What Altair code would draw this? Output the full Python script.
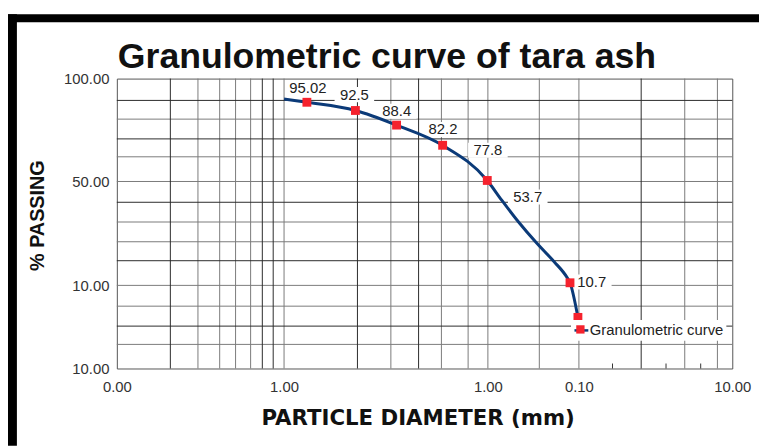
import altair as alt
import pandas as pd

# ---- axis ticks (tick-index positions) and their printed labels ----
x_ticks = [0, 1, 2, 3, 4]
x_tick_labels = ["0.00", "1.00", "1.00", "0.10", "10.00"]
y_ticks = [0, 10, 50, 100]
y_tick_labels = ["10.00", "10.00", "50.00", "100.00"]

# ---- granulometric curve (axis units) ----
curve_x = [1.0, 1.112, 1.35, 1.552, 1.778, 1.997, 2.152, 2.337, 2.543, 2.728, 2.87, 2.902, 2.989]
curve_y = [90.1, 88.5, 84.5, 77.4, 67.6, 50.5, 42.8, 34.4, 26.0, 19.1, 13.0, 11.0, 6.15]
marker_flag = [0, 1, 1, 1, 1, 1, 0, 0, 0, 0, 0, 1, 1]

# ---- value labels ----
label_text = ["95.02", "92.5", "88.4", "82.2", "77.8", "53.7", "10.7"]
label_x = [1.117, 1.345, 1.553, 1.780, 2.0, 2.438, 3.084]
label_y = [95.3, 92.2, 84.1, 75.3, 65.2, 44.0, 11.3]

# ---- grid lines ----
x_grid_major = [0.32, 0.87, 0.935, 1.36, 1.66, 3.406]
x_grid_minor = [0.485, 0.615, 0.71, 0.80, 1.0, 1.524, 1.772, 1.903, 2.0, 2.565, 3.0, 3.69, 3.903]
y_grid_major = [89.4, 70.7, 42.0, 19.5, 5.1]
y_grid_minor = [80.3, 62.0, 50, 34.4, 26.8, 10, 7.5, 2.9]
bottom_ticks_x = [3.219, 3.568, 3.794]
bottom_tick_len = 0.6

series_name = "Granulometric curve"

W, H = 622, 293
FONT = "Liberation Sans"

xs = alt.Scale(domain=x_ticks, range=[0, 169, 375, 467, 622], nice=False, zero=False)
ys = alt.Scale(domain=y_ticks, range=[293, 209, 104, 0], nice=False, zero=False)


def ternary(vals, labels):
    expr = "''"
    for v, l in zip(vals, labels):
        expr = f"datum.value == {v} ? '{l}' : ({expr})"
    return expr


x_axis = alt.Axis(values=x_ticks, labelExpr=ternary(x_ticks, x_tick_labels), ticks=False,
                  domain=False, grid=False, labelFlush=False, labelOverlap=False,
                  labelFontSize=15, labelFont=FONT, labelColor="#333", labelPadding=11,
                  title="PARTICLE DIAMETER (mm)", titleFont="DejaVu Sans", titleFontSize=21.5,
                  titleFontWeight="bold", titleColor="#111", titleX=304, titleY=57,
                  titleAlign="center", titleBaseline="alphabetic")
y_axis = alt.Axis(values=y_ticks, labelExpr=ternary(y_ticks, y_tick_labels), ticks=False,
                  domain=False, grid=False, labelFlush=False, labelOverlap=False,
                  labelFontSize=15, labelFont=FONT, labelColor="#333", labelPadding=8,
                  title="% PASSING", titleFont=FONT, titleFontSize=20, titleFontWeight="bold",
                  titleColor="#111", titleX=-74, titleY=138, titleAlign="center",
                  titleBaseline="alphabetic", titleAngle=270)


def X(field):
    return alt.X(field, scale=xs, axis=x_axis)


def Y(field):
    return alt.Y(field, scale=ys, axis=y_axis)


curve_df = pd.DataFrame({"x": curve_x, "y": curve_y, "m": marker_flag, "series": series_name})
marker_df = curve_df[curve_df["m"] == 1]
label_df = pd.DataFrame({"x": label_x, "y": label_y, "t": label_text})
one = pd.DataFrame({"a": [0]})

frame_left = alt.Chart(one).mark_rect(color="#000").encode(
    x=alt.value(-110), x2=alt.value(-101), y=alt.value(-65), y2=alt.value(371))
frame_top = alt.Chart(one).mark_rect(color="#000").encode(
    x=alt.value(-110), x2=alt.value(649), y=alt.value(-65), y2=alt.value(-57))


def vrules(vals, color):
    return alt.Chart(pd.DataFrame({"x": vals})).mark_rule(color=color, strokeWidth=1).encode(
        x=X("x:Q"))


def hrules(vals, color):
    return alt.Chart(pd.DataFrame({"y": vals})).mark_rule(color=color, strokeWidth=1).encode(
        y=Y("y:Q"))


minor_c = "#7a7a7a"
major_c = "#2a2a2a"

ticks_layer = alt.Chart(pd.DataFrame({"x": bottom_ticks_x, "y0": 0.0, "y1": bottom_tick_len})).mark_rule(
    color="#333").encode(x=X("x:Q"), y=Y("y0:Q"), y2="y1:Q")

boxes = alt.Chart(label_df).mark_point(shape="M-1,-0.38H1V0.38H-1Z", filled=True, fill="white",
                                       size=1600, opacity=1, strokeWidth=0).encode(
    x=X("x:Q"), y=Y("y:Q"))

texts = alt.Chart(label_df).mark_text(font=FONT, fontSize=15, color="#222", align="center",
                                      baseline="middle").encode(
    x=X("x:Q"), y=Y("y:Q"), text="t:N")

line = alt.Chart(curve_df).mark_line(interpolate="monotone", strokeWidth=3).encode(
    x=X("x:Q"),
    y=Y("y:Q"),
    stroke=alt.Stroke("series:N", scale=alt.Scale(range=["#0b3a78"]),
                      legend=alt.Legend(orient="none", legendX=459, legendY=244, title=None,
                                        symbolType="stroke", symbolSize=196, symbolStrokeWidth=2.5,
                                        labelFontSize=15, labelFont=FONT, labelColor="#222",
                                        labelOffset=0, fillColor="white", padding=2)),
)

points = alt.Chart(marker_df).mark_point(shape="square", filled=True, size=80, opacity=1,
                                         strokeWidth=0).encode(
    x=X("x:Q"),
    y=Y("y:Q"),
    fill=alt.Fill("series:N", scale=alt.Scale(range=["#f5222d"]),
                  legend=alt.Legend(orient="none", legendX=459, legendY=244, title=None,
                                    symbolType="M-0.6,-0.6H0.6V0.6H-0.6Z", symbolSize=196,
                                    symbolStrokeWidth=0, labelFontSize=15, labelFont=FONT,
                                    labelOffset=0, labelOpacity=0, padding=2)),
)

chart = alt.layer(
    frame_left, frame_top,
    vrules(x_grid_minor, minor_c), hrules(y_grid_minor, minor_c),
    vrules(x_grid_major, major_c), hrules(y_grid_major, major_c),
    ticks_layer, boxes, texts, line, points,
).properties(
    width=W, height=H,
    title=alt.TitleParams("Granulometric curve of tara ash", font=FONT, fontSize=36,
                          fontWeight="bold", color="#111", anchor="middle", frame="group",
                          dx=-38, offset=-90, baseline="alphabetic"),
    autosize=alt.AutoSizeParams(type="none"),
    padding={"left": 110, "top": 69, "right": 27, "bottom": 78},
    background="white",
).configure_view(stroke="#555", strokeWidth=1)

chart.save("out.html", embed_options={"renderer": "svg", "actions": False})
